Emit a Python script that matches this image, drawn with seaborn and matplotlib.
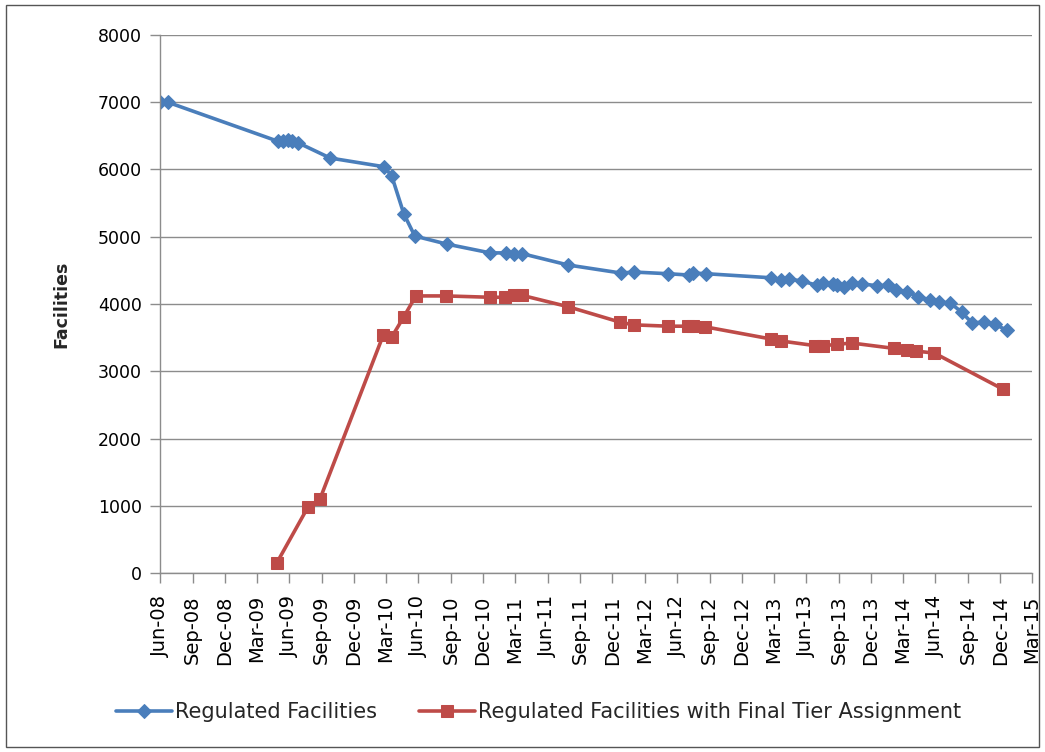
import pandas as pd
import numpy as np
import seaborn as sns
import matplotlib.pyplot as plt
import matplotlib.dates as mdates
from matplotlib.patches import Rectangle

# --- data ---
reg_dates = [
    "2008-06-01", "2008-06-23", "2009-04-30", "2009-05-14", "2009-05-28",
    "2009-06-09", "2009-06-25", "2009-09-25", "2010-02-25", "2010-03-18",
    "2010-04-21", "2010-05-22", "2010-08-21", "2010-12-21", "2011-02-05",
    "2011-02-25", "2011-03-20", "2011-07-29", "2011-12-26", "2012-02-01",
    "2012-05-07", "2012-07-06", "2012-07-16", "2012-08-23", "2013-02-21",
    "2013-03-22", "2013-04-14", "2013-05-21", "2013-06-30", "2013-07-19",
    "2013-08-17", "2013-08-28", "2013-09-15", "2013-10-07", "2013-11-05",
    "2013-12-19", "2014-01-17", "2014-02-10", "2014-03-14", "2014-04-12",
    "2014-05-18", "2014-06-10", "2014-07-13", "2014-08-14", "2014-09-12",
    "2014-10-16", "2014-11-16", "2014-12-19",
]
reg_values = [
    7000, 7000, 6420, 6420, 6440,
    6420, 6400, 6170, 6040, 5900,
    5340, 5010, 4890, 4760, 4760,
    4745, 4750, 4580, 4460, 4475,
    4450, 4430, 4460, 4450, 4390,
    4360, 4370, 4340, 4280, 4310,
    4300, 4280, 4250, 4310, 4300,
    4270, 4280, 4210, 4180, 4110,
    4060, 4030, 4015, 3880, 3720,
    3730, 3700, 3610,
]

tier_dates = [
    "2009-04-27", "2009-07-24", "2009-08-27", "2010-02-22", "2010-03-18",
    "2010-04-21", "2010-05-25", "2010-08-18", "2010-12-21", "2011-02-02",
    "2011-02-25", "2011-03-20", "2011-07-29", "2011-12-23", "2012-01-30",
    "2012-05-07", "2012-07-03", "2012-07-16", "2012-08-20", "2013-02-21",
    "2013-03-22", "2013-06-27", "2013-07-19", "2013-08-28", "2013-10-07",
    "2014-02-04", "2014-03-14", "2014-04-07", "2014-05-29", "2014-12-10",
]
tier_values = [
    150, 980, 1100, 3540, 3510,
    3810, 4120, 4120, 4100, 4100,
    4130, 4130, 3960, 3730, 3690,
    3670, 3670, 3670, 3660, 3480,
    3450, 3380, 3380, 3400, 3420,
    3340, 3320, 3300, 3270, 2730,
]

series_names = ["Regulated Facilities", "Regulated Facilities with Final Tier Assignment"]
series_colors = ["#4A7EBB", "#BE4B48"]

df_reg = pd.DataFrame({"date": pd.to_datetime(reg_dates), "value": reg_values})
df_tier = pd.DataFrame({"date": pd.to_datetime(tier_dates), "value": tier_values})

sns.set_style("white")
plt.rcParams["font.family"] = ["DejaVu Sans"]

fig = plt.figure(figsize=(10.45, 7.52), dpi=100)
ax = fig.add_axes([0.1531, 0.238, 0.8345, 0.7155])

sns.lineplot(data=df_reg, x="date", y="value", ax=ax, color=series_colors[0],
             linewidth=2.6, marker="D", markersize=7, markeredgecolor=series_colors[0],
             label=series_names[0])
sns.lineplot(data=df_tier, x="date", y="value", ax=ax, color=series_colors[1],
             linewidth=2.6, marker="s", markersize=8, markeredgecolor=series_colors[1],
             label=series_names[1])

# axes
ax.set_ylim(0, 8000)
ax.set_yticks(np.arange(0, 8001, 1000))
ax.set_xlim(pd.Timestamp("2008-06-01"), pd.Timestamp("2015-03-01"))
ax.xaxis.set_major_locator(mdates.MonthLocator(bymonth=[3, 6, 9, 12]))
ax.xaxis.set_major_formatter(mdates.DateFormatter("%b-%y"))
plt.setp(ax.get_xticklabels(), rotation=90)

ax.grid(axis="y", color="#8c8c8c", linewidth=1)
ax.grid(axis="x", visible=False)
for s in ["top", "right"]:
    ax.spines[s].set_visible(False)
for s in ["left", "bottom"]:
    ax.spines[s].set_color("#8c8c8c")
    ax.spines[s].set_linewidth(1)
ax.tick_params(axis="both", which="major", length=7, color="#8c8c8c", width=1,
               direction="out", labelcolor="black", left=True, bottom=True)
ax.tick_params(axis="y", labelsize=12.5, pad=6)
ax.tick_params(axis="x", labelsize=14, pad=9)

ax.set_xlabel("")
ax.set_ylabel("Facilities", fontweight="bold", fontsize=12.5, labelpad=20)

ax.legend(loc="center left", bbox_to_anchor=(-0.072, -0.258), ncol=2, frameon=False,
          fontsize=15, handlelength=2.7, columnspacing=2.0, handletextpad=0.15)

# outer chart border
fig.patches.append(Rectangle((0.006, 0.006), 0.988, 0.988, transform=fig.transFigure,
                             fill=False, edgecolor="#555555", linewidth=1))

fig.savefig("out.png", dpi=100)
